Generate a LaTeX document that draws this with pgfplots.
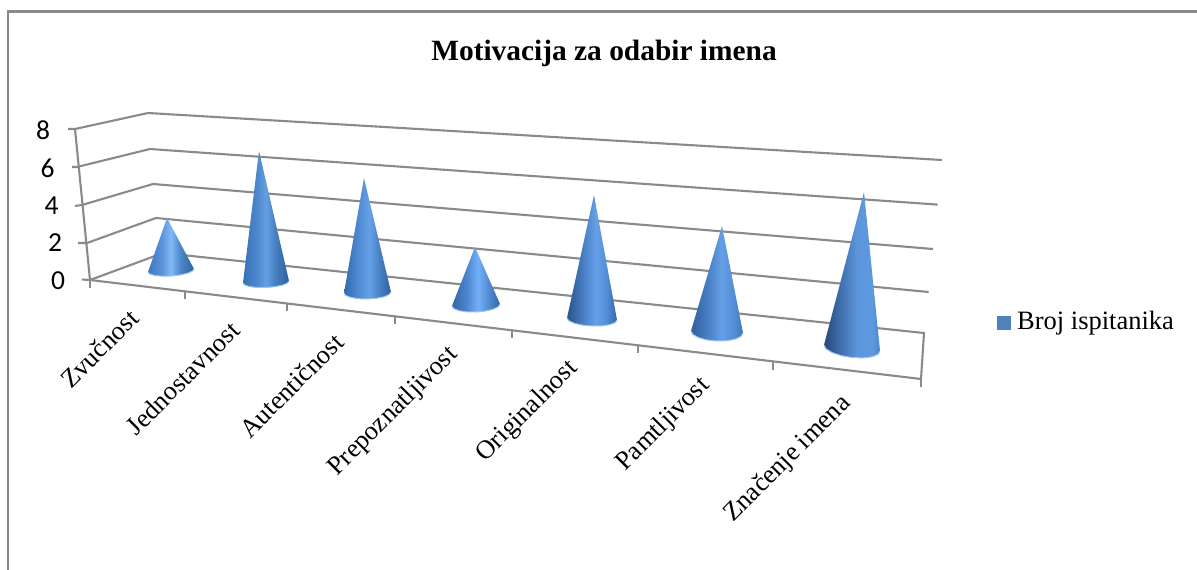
\documentclass[border=0pt]{standalone}
\usepackage{pgfplots}
\pgfplotsset{compat=1.18}
\usepackage{fontspec}
\setmainfont{Liberation Serif}
\newfontfamily\tickfont{Carlito}
\definecolor{gridc}{HTML}{8A8A8A}
\definecolor{legc}{HTML}{4F81BD}
\definecolor{rimc}{HTML}{9CC4F2}
% horizontal shadings: the part 25bp..75bp covers the cone's width
\pgfdeclarehorizontalshading{c1}{100bp}{rgb(0bp)=(.24,.47,.75); rgb(25bp)=(.24,.47,.75); rgb(40bp)=(.36,.58,.85); rgb(50bp)=(.50,.72,.97); rgb(60bp)=(.30,.53,.78); rgb(75bp)=(.19,.39,.62); rgb(100bp)=(.19,.39,.62)}
\pgfdeclarehorizontalshading{c2}{100bp}{rgb(0bp)=(.22,.44,.72); rgb(25bp)=(.22,.44,.72); rgb(40bp)=(.30,.53,.80); rgb(50bp)=(.40,.62,.89); rgb(60bp)=(.28,.50,.76); rgb(75bp)=(.18,.37,.60); rgb(100bp)=(.18,.37,.60)}
\pgfdeclarehorizontalshading{c3}{100bp}{rgb(0bp)=(.20,.41,.68); rgb(25bp)=(.20,.41,.68); rgb(40bp)=(.31,.54,.82); rgb(52bp)=(.40,.63,.91); rgb(62bp)=(.29,.51,.78); rgb(75bp)=(.19,.38,.61); rgb(100bp)=(.19,.38,.61)}
\pgfdeclarehorizontalshading{c4}{100bp}{rgb(0bp)=(.20,.40,.65); rgb(25bp)=(.20,.40,.65); rgb(40bp)=(.30,.52,.80); rgb(52bp)=(.45,.69,.97); rgb(62bp)=(.33,.56,.84); rgb(75bp)=(.20,.40,.65); rgb(100bp)=(.20,.40,.65)}
\pgfdeclarehorizontalshading{c5}{100bp}{rgb(0bp)=(.16,.33,.54); rgb(25bp)=(.16,.33,.54); rgb(40bp)=(.27,.48,.75); rgb(54bp)=(.40,.63,.91); rgb(65bp)=(.32,.55,.84); rgb(75bp)=(.20,.40,.65); rgb(100bp)=(.20,.40,.65)}
\pgfdeclarehorizontalshading{c6}{100bp}{rgb(0bp)=(.19,.38,.63); rgb(25bp)=(.19,.38,.63); rgb(38bp)=(.26,.47,.74); rgb(54bp)=(.39,.62,.90); rgb(66bp)=(.33,.56,.85); rgb(75bp)=(.25,.46,.73); rgb(100bp)=(.25,.46,.73)}
\pgfdeclarehorizontalshading{c7}{100bp}{rgb(0bp)=(.15,.28,.46); rgb(25bp)=(.15,.28,.46); rgb(38bp)=(.24,.42,.66); rgb(55bp)=(.36,.59,.87); rgb(68bp)=(.37,.60,.87); rgb(75bp)=(.30,.52,.80); rgb(100bp)=(.30,.52,.80)}
\newcommand{\catlab}{\fontsize{26.3}{31}\selectfont}
\begin{document}
\begin{tikzpicture}[x=1pt,y=1pt]
\path[use as bounding box] (0,0) rectangle (1197pt,570pt);
\begin{axis}[
  at={(0,0)},anchor=south west,
  scale only axis,width=1197pt,height=570pt,
  xmin=0,xmax=1197,ymin=0,ymax=570,y dir=reverse,
  hide axis,clip=false,no markers]
% outer frame
\addplot[gridc,line width=2.6pt] coordinates {(8,570)(8,11.5)(1197,11.5)};
% back wall grid lines: 0 2 4 6 8
\addplot[gridc,line width=2.1pt] coordinates {(68,129)(75,129)(148,113)(942,160)};
\addplot[gridc,line width=2.1pt] coordinates {(72,167)(77,167)(150,149)(937.6,204.6)};
\addplot[gridc,line width=2.1pt] coordinates {(75,206)(82,205)(153,184)(933,249)};
\addplot[gridc,line width=2.1pt] coordinates {(78,243)(87,243)(156,218)(928.6,292)};
\addplot[gridc,line width=2.1pt] coordinates {(82,279.5)(90,280)(163,253)(924,333)(921,379)};
% front vertical edge, front floor edge
\addplot[gridc,line width=2.1pt] coordinates {(75,129)(90,280)(921,379)};
% category ticks
\addplot[gridc,line width=2.1pt] coordinates {(90,280)(90,288)};
\addplot[gridc,line width=2.1pt] coordinates {(185,291)(185,299)};
\addplot[gridc,line width=2.1pt] coordinates {(287,303.5)(287,311)};
\addplot[gridc,line width=2.1pt] coordinates {(395,316)(395,323.5)};
\addplot[gridc,line width=2.1pt] coordinates {(512,330)(512,338)};
\addplot[gridc,line width=2.1pt] coordinates {(638,345)(638,353)};
\addplot[gridc,line width=2.1pt] coordinates {(773,361.5)(773,369.5)};
\addplot[gridc,line width=2.1pt] coordinates {(921,379)(921,387)};
% cones, values 3 7 6 3 6 5 7: tip, then the lower rim of the base
\addplot[draw=none,shading=c1] coordinates {(167,218)(148,272)(149.75,274)(154.7,275.45)(162.2,276.15)(171,276)(179.8,275)(187.3,273.33)(192.25,271.2)(194,269)} --cycle;
\addplot[rimc,line width=1pt] coordinates {(148,272)(149.75,274)(154.7,275.45)(162.2,276.15)(171,276)(179.8,275)(187.3,273.33)(192.25,271.2)(194,269)};
\addplot[draw=none,shading=c2] coordinates {(259,151)(243,283)(244.75,285)(249.7,286.6)(257.2,287.46)(266,287.5)(274.8,286.7)(282.3,285.18)(287.25,283.19)(289,281)} --cycle;
\addplot[rimc,line width=1pt] coordinates {(243,283)(244.75,285)(249.7,286.6)(257.2,287.46)(266,287.5)(274.8,286.7)(282.3,285.18)(287.25,283.19)(289,281)};
\addplot[draw=none,shading=c3] coordinates {(364,178)(344,293)(345.8,295.45)(350.9,297.45)(358.5,298.7)(367.5,299)(376.5,298.3)(384.1,296.75)(389.2,294.53)(391,292)} --cycle;
\addplot[rimc,line width=1pt] coordinates {(344,293)(345.8,295.45)(350.9,297.45)(358.5,298.7)(367.5,299)(376.5,298.3)(384.1,296.75)(389.2,294.53)(391,292)};
\addplot[draw=none,shading=c4] coordinates {(475,247)(452,306)(453.8,308.6)(459,310.66)(466.8,311.85)(476,312)(485.2,311.09)(493,309.24)(498.2,306.76)(500,304)} --cycle;
\addplot[rimc,line width=1pt] coordinates {(452,306)(453.8,308.6)(459,310.66)(466.8,311.85)(476,312)(485.2,311.09)(493,309.24)(498.2,306.76)(500,304)};
\addplot[draw=none,shading=c5] coordinates {(594,195)(567,318)(568.9,320.76)(574.3,323.24)(582.4,325.09)(592,326)(601.6,325.85)(609.7,324.66)(615.1,322.6)(617,320)} --cycle;
\addplot[rimc,line width=1pt] coordinates {(567,318)(568.9,320.76)(574.3,323.24)(582.4,325.09)(592,326)(601.6,325.85)(609.7,324.66)(615.1,322.6)(617,320)};
\addplot[draw=none,shading=c6] coordinates {(722,226)(691,331)(693,334.53)(698.6,337.65)(707,339.94)(717,341)(727,340.7)(735.4,339.07)(741,336.37)(743,333)} --cycle;
\addplot[rimc,line width=1pt] coordinates {(691,331)(693,334.53)(698.6,337.65)(707,339.94)(717,341)(727,340.7)(735.4,339.07)(741,336.37)(743,333)};
\addplot[draw=none,shading=c7] coordinates {(864,192)(824,345)(826.1,348.87)(832.2,352.6)(841.3,355.63)(852,357.5)(862.7,357.93)(871.8,356.84)(877.9,354.41)(880,351)} --cycle;
\addplot[rimc,line width=1pt] coordinates {(824,345)(826.1,348.87)(832.2,352.6)(841.3,355.63)(852,357.5)(862.7,357.93)(871.8,356.84)(877.9,354.41)(880,351)};
% legend swatch
\addplot[draw=none,fill=legc] coordinates {(997,316)(1011,316)(1011,330)(997,330)} --cycle;
% texts
\node[font=\fontsize{29.4}{33}\selectfont\bfseries,inner sep=0pt] at (axis cs:604,53) {Motivacija za odabir imena};
\node[font=\fontsize{26.5}{30}\selectfont,anchor=west,inner sep=0pt] at (axis cs:1017,323) {Broj ispitanika};
\foreach \v/\px/\py in {8/43/130,6/47.5/168,4/51.5/206,2/55/243,0/58/281}{
  \edef\temp{\noexpand\node[font=\noexpand\tickfont\noexpand\fontsize{27.5}{30}\noexpand\selectfont,inner sep=0pt] at (axis cs:\px,\py) {\v};}\temp
}
\node[font=\catlab,rotate=45,anchor=east,inner sep=0pt] at (axis cs:134,314) {Zvučnost};
\node[font=\catlab,rotate=45,anchor=east,inner sep=0pt] at (axis cs:235,326) {Jednostavnost};
\node[font=\catlab,rotate=45,anchor=east,inner sep=0pt] at (axis cs:339,338) {Autentičnost};
\node[font=\catlab,rotate=45,anchor=east,inner sep=0pt] at (axis cs:454,351) {Prepoznatljivost};
\node[font=\catlab,rotate=45,anchor=east,inner sep=0pt] at (axis cs:574,365) {Originalnost};
\node[font=\catlab,rotate=45,anchor=east,inner sep=0pt] at (axis cs:706,382) {Pamtljivost};
\node[font=\catlab,rotate=45,anchor=east,inner sep=0pt] at (axis cs:847,400) {Značenje imena};
\end{axis}
\end{tikzpicture}
\end{document}
